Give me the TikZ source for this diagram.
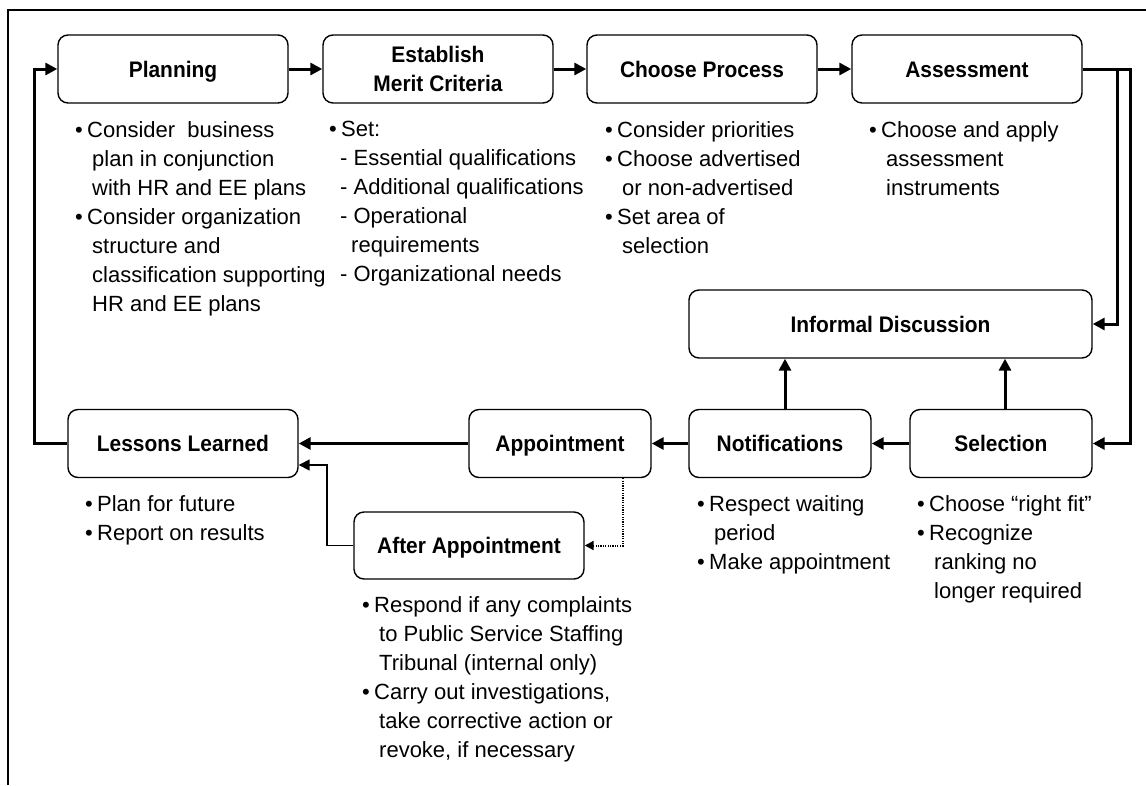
\documentclass[tikz,border=0pt]{standalone}
\usepackage{fontspec}
\setmainfont{Liberation Sans}
\newfontfamily\titlefont{Liberation Sans}[FakeStretch=0.93]
\usetikzlibrary{arrows.meta}
\newcommand\bu{\makebox[12pt][l]{\textbullet}}
\newcommand\cn{\hspace*{17pt}}
\begin{document}
\begin{tikzpicture}[x=1pt,y=-1pt,
  box/.style={draw, line width=1.4pt, rounded corners=10pt, minimum height=68pt,
    inner sep=0pt, align=center, font=\titlefont\bfseries\fontsize{22.5}{29}\selectfont},
  oneline/.style={text height=16.5pt, text depth=0pt},
  body/.style={anchor=north west, inner sep=0pt, align=left,
    font=\fontsize{22}{29}\selectfont},
  thickarrow/.style={line width=3pt, -{Triangle[length=12pt,width=12pt]}},
  thinarrow/.style={line width=1.5pt, -{Triangle[length=11pt,width=11pt]}},
  dotarrow/.style={line width=2pt, dash pattern=on 1.2pt off 1.2pt, -{Triangle[length=9pt,width=9pt]}}]
\useasboundingbox (0,0) rectangle (1146,785);
% partial frame
\draw[line width=2pt] (8,785) -- (8,10) -- (1146,10);

% boxes
\node[box, oneline, minimum width=230pt] (planning) at (173,69) {Planning};
\node[box, minimum width=230pt] (merit) at (438,69) {Establish\\Merit Criteria};
\node[box, oneline, minimum width=230pt] (process) at (702,69) {Choose Process};
\node[box, oneline, minimum width=230pt] (assess) at (967,69) {Assessment};
\node[box, oneline, minimum width=403pt] (informal) at (890.5,324) {Informal Discussion};
\node[box, oneline, minimum width=182pt] (selection) at (1001,443.5) {Selection};
\node[box, oneline, minimum width=182pt] (notif) at (780,443.5) {Notifications};
\node[box, oneline, minimum width=182pt] (appoint) at (560,443.5) {Appointment};
\node[box, oneline, minimum width=230pt] (lessons) at (183,443.5) {Lessons Learned};
\node[box, oneline, minimum width=230pt, minimum height=67pt] (after) at (469,545.5) {After Appointment};

% body texts
\node[body] (tplanning) at (75,121) {\bu Consider\ \ business\\
  \cn plan in conjunction\\
  \cn with HR and EE plans\\
  \bu Consider organization\\
  \cn structure and\\
  \cn classification supporting\\
  \cn HR and EE plans};
\node[body] (tmerit) at (329,121) {\bu Set:\\
  \hspace*{11pt}- Essential qualifications\\
  \hspace*{11pt}- Additional qualifications\\
  \hspace*{11pt}- Operational\\
  \hspace*{22pt}requirements\\
  \hspace*{11pt}- Organizational needs};
\node[body] (tprocess) at (605,121) {\bu Consider priorities\\
  \bu Choose advertised\\
  \cn or non-advertised\\
  \bu Set area of\\
  \cn selection};
\node[body] (tassess) at (869,121) {\bu Choose and apply\\
  \cn assessment\\
  \cn instruments};
\node[body] (tlessons) at (85,495) {\bu Plan for future\\
  \bu Report on results};
\node[body] (tnotif) at (697,495) {\bu Respect waiting\\
  \cn period\\
  \bu Make appointment};
\node[body] (tselection) at (917,495) {\bu Choose “right fit”\\
  \bu Recognize\\
  \cn ranking no\\
  \cn longer required};
\node[body] (tafter) at (362,596) {\bu Respond if any complaints\\
  \cn to Public Service Staffing\\
  \cn Tribunal (internal only)\\
  \bu Carry out investigations,\\
  \cn take corrective action or\\
  \cn revoke, if necessary};

% helper coordinates
\coordinate (rin) at (1117,0);
\coordinate (rout) at (1130,0);
\coordinate (lx) at (34,0);
\coordinate (ax) at (327,465);

% connectors
\draw[thickarrow] (planning.east) -- (merit.west);
\draw[thickarrow] (merit.east) -- (process.west);
\draw[thickarrow] (process.east) -- (assess.west);
\draw[thickarrow] (assess.east) -| (informal.east -| rin) -- (informal.east);
\draw[thickarrow] (assess.east) -| (selection.east -| rout) -- (selection.east);
\draw[thickarrow] (selection.west) -- (notif.east);
\draw[thickarrow] (notif.west) -- (appoint.east);
\draw[thickarrow] (appoint.west) -- (lessons.east);
\draw[thickarrow] ([xshift=5pt]notif.north) -- ([xshift=5pt]notif.north |- informal.south);
\draw[thickarrow] ([xshift=4pt]selection.north) -- ([xshift=4pt]selection.north |- informal.south);
\draw[thickarrow] (lessons.west) -- (lessons.west -| lx) |- (planning.west);
\draw[thinarrow] (after.west) -| (ax) -- (ax -| lessons.east);
\draw[dotarrow] ([xshift=63pt]appoint.south) |- (after.east);
\end{tikzpicture}
\end{document}
